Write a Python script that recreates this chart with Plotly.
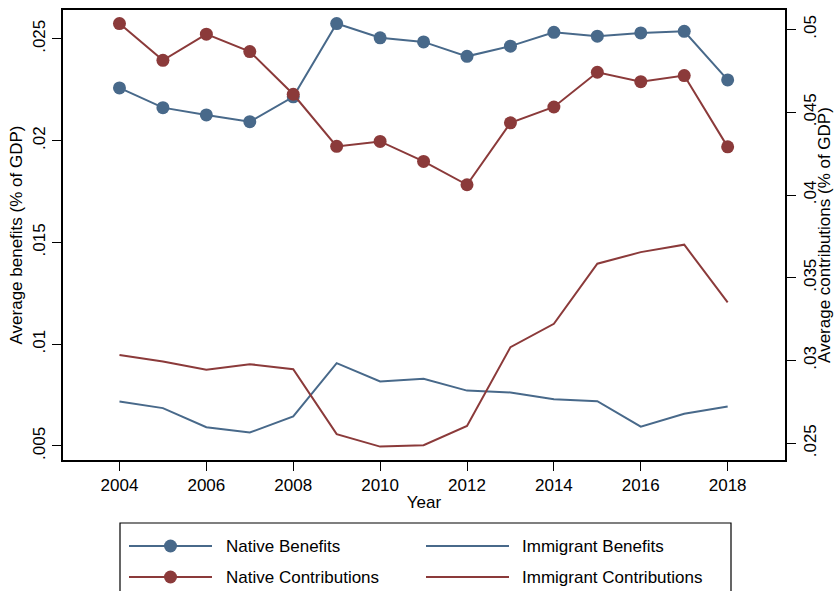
import plotly.graph_objects as go

# Annual averages, share of GDP
years = [2004, 2005, 2006, 2007, 2008, 2009, 2010, 2011, 2012, 2013, 2014, 2015, 2016, 2017, 2018]
native_benefits = [0.02259, 0.02162, 0.02126, 0.02093, 0.02215, 0.02575, 0.02505, 0.02485,
                   0.02414, 0.02464, 0.02532, 0.02513, 0.02529, 0.02537, 0.02298]
immigrant_benefits = [0.00718, 0.00686, 0.00592, 0.00566, 0.00645, 0.00907, 0.00817, 0.00830,
                      0.00772, 0.00763, 0.00730, 0.00720, 0.00595, 0.00658, 0.00694]
native_contributions = [0.05036, 0.04814, 0.04972, 0.04867, 0.04609, 0.04294, 0.04324, 0.04203,
                        0.04062, 0.04436, 0.04532, 0.04742, 0.04685, 0.04722, 0.04291]
immigrant_contributions = [0.03034, 0.02994, 0.02944, 0.02978, 0.02948, 0.02555, 0.02480, 0.02488,
                           0.02605, 0.03081, 0.03222, 0.03585, 0.03655, 0.03700, 0.03351]

x_ticks = [2004, 2006, 2008, 2010, 2012, 2014, 2016, 2018]
left_ticks = [0.005, 0.01, 0.015, 0.02, 0.025]
left_labels = [".005", ".01", ".015", ".02", ".025"]
right_ticks = [0.025, 0.03, 0.035, 0.04, 0.045, 0.05]
right_labels = [".025", ".03", ".035", ".04", ".045", ".05"]

BLUE = "#48698a"
RED = "#8b3a3a"
FONT = "Liberation Sans, Arial, Helvetica, sans-serif"
FS = 17

fig = go.Figure()
fig.add_trace(go.Scatter(x=years, y=native_benefits, name="Native Benefits", mode="lines+markers",
                         line=dict(color=BLUE, width=2), marker=dict(color=BLUE, size=13),
                         yaxis="y"))
fig.add_trace(go.Scatter(x=years, y=immigrant_benefits, name="Immigrant Benefits", mode="lines",
                         line=dict(color=BLUE, width=2), yaxis="y"))
fig.add_trace(go.Scatter(x=years, y=immigrant_contributions, name="Immigrant Contributions", mode="lines",
                         line=dict(color=RED, width=2), yaxis="y2"))
fig.add_trace(go.Scatter(x=years, y=native_contributions, name="Native Contributions", mode="lines+markers",
                         line=dict(color=RED, width=2), marker=dict(color=RED, size=13),
                         yaxis="y2"))

axis_common = dict(showgrid=False, zeroline=False, showline=True, linecolor="black", linewidth=1.5,
                   ticks="outside", ticklen=9, tickwidth=1.2, tickcolor="black", automargin=False,
                   tickfont=dict(family=FONT, size=FS, color="black"))

fig.update_layout(
    width=834, height=591,
    margin=dict(l=63, r=49, t=10, b=131),
    paper_bgcolor="white", plot_bgcolor="white",
    showlegend=False,
    font=dict(family=FONT, size=FS, color="black"),
    xaxis=dict(range=[2002.7, 2019.32], tickvals=x_ticks, mirror=True,
               title=dict(text="Year", font=dict(family=FONT, size=FS), standoff=2),
               **axis_common),
    yaxis=dict(range=[0.004312, 0.026416], tickvals=left_ticks, ticktext=left_labels, tickangle=-90,
               title=dict(text="Average benefits (% of GDP)", font=dict(family=FONT, size=FS), standoff=4),
               **axis_common),
    yaxis2=dict(range=[0.02399, 0.05118], tickvals=right_ticks, ticktext=right_labels, tickangle=-90,
                overlaying="y", side="right",
                title=dict(text="Average contributions (% of GDP)", font=dict(family=FONT, size=FS), standoff=4),
                **axis_common),
)

# Legend panel below the plot, drawn in paper coordinates
def py(pixel_y):
    return (460 - pixel_y) / 450

def px(pixel_x):
    return (pixel_x - 63) / 722

box_top = py(523)
fig.add_shape(type="rect", xref="paper", yref="paper", x0=px(120), x1=px(731), y0=py(620), y1=box_top,
              line=dict(color="black", width=1.2), fillcolor="white", layer="below")

legend_rows = [
    [("Native Benefits", BLUE, True), ("Immigrant Benefits", BLUE, False)],
    [("Native Contributions", RED, True), ("Immigrant Contributions", RED, False)],
]
row_y = [546, 577]
col_line = [(129, 212), (426, 509)]
col_text = [224, 520]
for r, row in enumerate(legend_rows):
    for c, (label, color, has_marker) in enumerate(row):
        yy = py(row_y[r])
        fig.add_shape(type="line", xref="paper", yref="paper", x0=px(col_line[c][0]), x1=px(col_line[c][1]),
                      y0=yy, y1=yy, line=dict(color=color, width=2))
        if has_marker:
            fig.add_shape(type="circle", xref="paper", yref="paper",
                          xsizemode="pixel", ysizemode="pixel",
                          xanchor=px((col_line[c][0] + col_line[c][1]) / 2), yanchor=yy,
                          x0=-6.5, x1=6.5, y0=-6.5, y1=6.5,
                          line=dict(color=color, width=0), fillcolor=color)
        fig.add_annotation(xref="paper", yref="paper", x=px(col_text[c]), y=yy, text=label,
                           showarrow=False, xanchor="left", yanchor="middle",
                           font=dict(family=FONT, size=FS, color="black"))

fig.write_html("out.html")
